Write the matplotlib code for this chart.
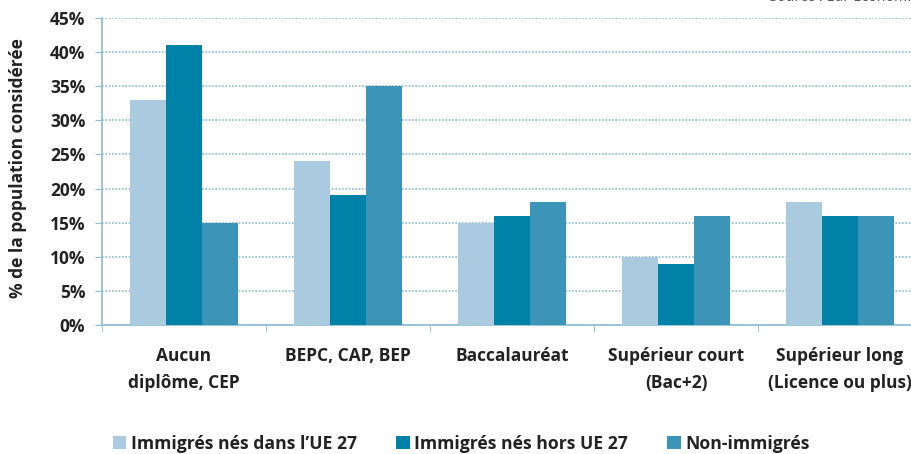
import numpy as np
import matplotlib.pyplot as plt
from matplotlib.ticker import FixedLocator, PercentFormatter

# data
categories = ["Aucun\ndiplôme, CEP", "BEPC, CAP, BEP", "Baccalauréat",
              "Supérieur court\n(Bac+2)", "Supérieur long\n(Licence ou plus)"]
ue27 = [33, 24, 15, 10, 18]
hors_ue27 = [41, 19, 16, 9, 16]
non_immigres = [15, 35, 18, 16, 16]
series_names = ["Immigrés nés dans l\u2019UE 27", "Immigrés nés hors UE 27", "Non-immigrés"]
colors = ["#a9cadf", "#0081a8", "#3d94b9"]
axis_col = "#8bbcd6"

plt.rcParams['font.family'] = ['Open Sans', 'DejaVu Sans']

fig = plt.figure(figsize=(9.12, 4.54), dpi=100)
ax = fig.add_axes([102/912, 129/454, 820/912, 307/454])

x = np.arange(len(categories))
w = 0.22
for i, vals in enumerate([ue27, hors_ue27, non_immigres]):
    ax.bar(x + (i - 1) * w, vals, w, color=colors[i], label=series_names[i], zorder=3)

ax.set_xlim(-0.5, len(categories) - 0.5)
ax.set_ylim(0, 45)
ax.set_yticks(np.arange(0, 46, 5))
ax.yaxis.set_major_formatter(PercentFormatter(decimals=0))
ax.grid(axis='y', color=axis_col, linestyle=(0, (1, 1)), linewidth=1.2, zorder=0)

ax.set_xticks(x)
ax.set_xticklabels(categories, fontsize=12.5, fontweight='bold', color='#222222', linespacing=1.65)
ax.xaxis.set_minor_locator(FixedLocator(np.arange(-0.5, len(categories), 1)))
ax.tick_params(axis='x', which='major', length=0, pad=16)
ax.tick_params(axis='x', which='minor', length=5, color=axis_col, direction='out')
ax.tick_params(axis='y', length=5, color=axis_col, labelsize=12.5, pad=7)
for lab in ax.get_yticklabels():
    lab.set_fontweight('bold')
    lab.set_color('#222222')

for s in ['top', 'right']:
    ax.spines[s].set_visible(False)
ax.spines['left'].set_color(axis_col)
ax.spines['bottom'].set_color(axis_col)
ax.spines['left'].set_linewidth(1.2)
ax.spines['bottom'].set_linewidth(1.2)

fig.text(18/912, 1 - 168/454, "% de la population considérée", rotation=90,
         ha='center', va='center', fontsize=12.5, fontweight='bold', color='#222222')

fig.text(848/912, 1.005, "Source : Eur Economics", ha='center', va='center',
         fontsize=11, style='italic', color='#555555')

fig.legend(loc='center left', bbox_to_anchor=(113/912, 1 - 444/454), ncol=3, frameon=False,
           borderpad=0, borderaxespad=0,
           handlelength=0.75, handleheight=0.75, handletextpad=0.25, columnspacing=2.25,
           prop={'size': 12.7, 'weight': 'bold'}, labelcolor='#222222')

fig.savefig("out.png", dpi=100)
